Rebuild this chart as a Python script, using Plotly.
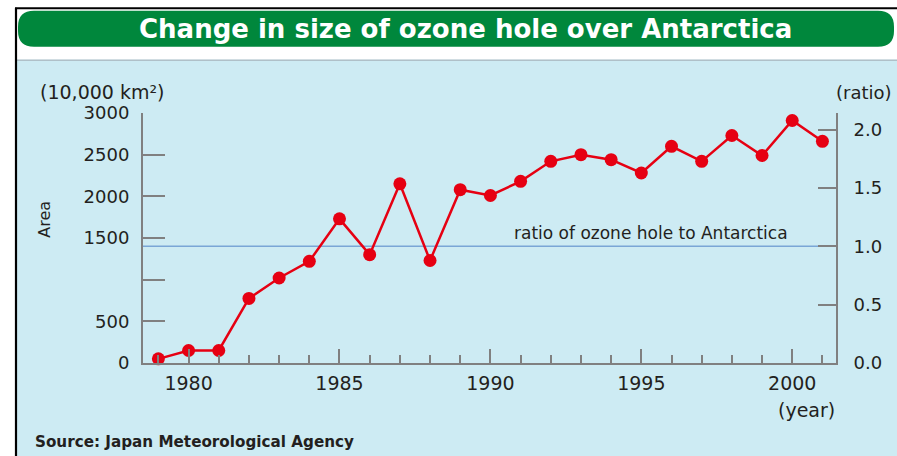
import plotly.graph_objects as go

# ---------------- data ----------------
years = list(range(1979, 2002))
area = [50, 150, 150, 775, 1020, 1220, 1730, 1300, 2150, 1230,
        2080, 2010, 2180, 2420, 2500, 2440, 2280, 2600, 2420, 2730,
        2490, 2910, 2660]   # 10,000 km^2
area_ticks = [0, 500, 1000, 1500, 2000, 2500, 3000]
area_ticktext = ["0", "500", "", "1500", "2000", "2500", "3000"]
ratio_ticks = [0, 0.5, 1.0, 1.5, 2.0]
ratio_ticktext = ["0.0", "0.5", "1.0", "1.5", "2.0"]
year_ticks = [1980, 1985, 1990, 1995, 2000]
antarctica_area = 1400  # area corresponding to ratio 1.0

# ---------------- geometry ----------------
WIDTH, HEIGHT = 897, 456
L, R, T, B = 143, 836, 113.3, 363.3
PW, PH = R - L, B - T


def px(x):
    return (x - L) / PW


def py(y):
    return (B - y) / PH


RED = "#E60012"
GREEN = "#00873C"
PANEL = "#CDEBF3"
AXIS = "#808080"
TXT = "#231F20"
BLUE_LINE = "#7AA6D6"

fig = go.Figure()
fig.add_trace(go.Scatter(
    x=years, y=area, mode="lines+markers",
    line=dict(color=RED, width=2.5),
    marker=dict(color=RED, size=13),
    cliponaxis=False, showlegend=False, hoverinfo="x+y",
))
# invisible trace to activate the right axis
fig.add_trace(go.Scatter(x=[years[0]], y=[0], yaxis="y2", mode="markers",
                         marker=dict(opacity=0), showlegend=False, hoverinfo="skip"))


def rounded_rect(x0, y0, x1, y1, r):
    pts = [
        f"M {px(x0 + r)},{py(y0)}",
        f"L {px(x1 - r)},{py(y0)}",
        f"Q {px(x1)},{py(y0)} {px(x1)},{py(y0 + r)}",
        f"L {px(x1)},{py(y1 - r)}",
        f"Q {px(x1)},{py(y1)} {px(x1 - r)},{py(y1)}",
        f"L {px(x0 + r)},{py(y1)}",
        f"Q {px(x0)},{py(y1)} {px(x0)},{py(y1 - r)}",
        f"L {px(x0)},{py(y0 + r)}",
        f"Q {px(x0)},{py(y0)} {px(x0 + r)},{py(y0)}",
        "Z",
    ]
    return " ".join(pts)


shapes = [
    dict(type="rect", xref="paper", yref="paper", layer="below",
         x0=px(17), x1=px(905), y0=py(470), y1=py(60),
         fillcolor=PANEL, line=dict(width=0)),
    dict(type="line", xref="paper", yref="paper", layer="below",
         x0=px(17), x1=px(905), y0=py(60.5), y1=py(60.5),
         line=dict(color="#AFC0C8", width=1.5)),
    dict(type="line", xref="paper", yref="paper", layer="below",
         x0=px(16), x1=px(16), y0=py(470), y1=py(8),
         line=dict(color="black", width=2.2)),
    dict(type="line", xref="paper", yref="paper", layer="below",
         x0=px(15), x1=px(905), y0=py(8.5), y1=py(8.5),
         line=dict(color="black", width=2)),
    dict(type="path", xref="paper", yref="paper", layer="below",
         path=rounded_rect(18, 11, 894, 47, 16),
         fillcolor=GREEN, line=dict(width=0)),
    dict(type="line", xref="paper", yref="y2", layer="between",
         x0=0, x1=1, y0=1.0, y1=1.0,
         line=dict(color=BLUE_LINE, width=1.5)),
]

FONT = "DejaVu Sans"
annotations = [
    dict(text="<b>Change in size of ozone hole over Antarctica</b>",
         x=px(465), y=py(29.5), xanchor="center", yanchor="middle",
         font=dict(family=FONT, size=26, color="white")),
    dict(text="(10,000 km²)", x=px(38), y=py(92.5), xanchor="left", yanchor="middle",
         font=dict(family=FONT, size=19, color=TXT)),
    dict(text="(ratio)", x=px(834), y=py(92.5), xanchor="left", yanchor="middle",
         font=dict(family=FONT, size=18, color=TXT)),
    dict(text="Area", x=px(45), y=py(220), xanchor="center", yanchor="middle",
         textangle=-90, font=dict(family=FONT, size=16, color=TXT)),
    dict(text="ratio of ozone hole to Antarctica", x=px(650.5), y=py(233.3),
         xanchor="center", yanchor="middle",
         font=dict(family=FONT, size=17, color=TXT)),
    dict(text="(year)", x=px(806.5), y=py(410), xanchor="center", yanchor="middle",
         font=dict(family=FONT, size=19, color=TXT)),
    dict(text="<b>Source: Japan Meteorological Agency</b>", x=px(33), y=py(442),
         xanchor="left", yanchor="middle",
         font=dict(family=FONT, size=15.2, color=TXT)),
]
for a in annotations:
    a.update(xref="paper", yref="paper", showarrow=False)

fig.update_layout(
    width=WIDTH, height=HEIGHT,
    margin=dict(l=L, r=WIDTH - R, t=T, b=HEIGHT - B, pad=0),
    paper_bgcolor="white", plot_bgcolor=PANEL,
    shapes=shapes, annotations=annotations,
    showlegend=False,
    xaxis=dict(
        range=[1978.49, 2001.45], showgrid=False, zeroline=False,
        showline=True, linecolor=AXIS, linewidth=2,
        ticks="inside", ticklen=14, tickwidth=1.5, tickcolor=AXIS,
        tickvals=year_ticks, ticktext=[str(y) for y in year_ticks],
        tickfont=dict(family=FONT, size=19, color=TXT),
        ticklabelstandoff=2,
        minor=dict(ticks="inside", ticklen=8, tickwidth=1.5, tickcolor=AXIS,
                   tickvals=years, showgrid=False),
    ),
    yaxis=dict(
        range=[0, 3000], showgrid=False, zeroline=False,
        showline=True, linecolor=AXIS, linewidth=2,
        ticks="inside", ticklen=22, tickwidth=1.5, tickcolor=AXIS,
        tickvals=area_ticks, ticktext=area_ticktext,
        tickfont=dict(family=FONT, size=18, color=TXT),
        ticklabelstandoff=8,
    ),
    yaxis2=dict(
        overlaying="y", side="right",
        range=[0, 3000 / antarctica_area], showgrid=False, zeroline=False,
        showline=True, linecolor=AXIS, linewidth=2,
        ticks="inside", ticklen=18, tickwidth=1.5, tickcolor=AXIS,
        tickvals=ratio_ticks, ticktext=ratio_ticktext,
        tickfont=dict(family=FONT, size=18, color=TXT),
        ticklabelstandoff=12,
    ),
)

fig.write_html(
    "out.html",
    config={"displayModeBar": False},
    post_script="document.body.style.margin='0px';document.body.style.overflow='hidden';",
)
